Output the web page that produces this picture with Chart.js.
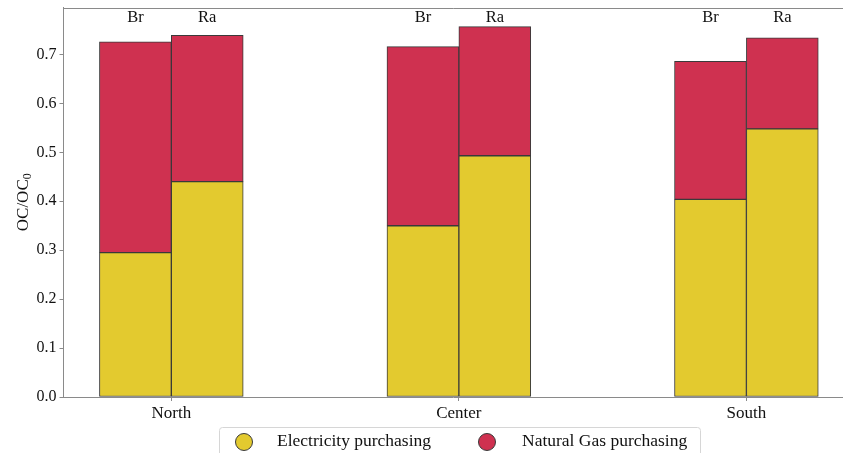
<!DOCTYPE html>
<html>
<head>
<meta charset="utf-8">
<script src="https://cdn.jsdelivr.net/npm/chart.js@4/dist/chart.umd.min.js"></script>
<style>
  html, body { margin: 0; padding: 0; background: #ffffff; }
  #wrap { width: 843px; height: 453px; position: relative; }
</style>
</head>
<body>
<div id="wrap"><canvas id="c" width="843" height="453"></canvas></div>
<script>
// Regions and scenarios
const regions = ['North', 'Center', 'South'];
const scenarios = ['Br', 'Ra'];

// Normalised operating cost shares, OC/OC0
const electricityBr = [0.295, 0.350, 0.404];
const gasBr         = [0.431, 0.366, 0.282];
const electricityRa = [0.440, 0.493, 0.548];
const gasRa         = [0.299, 0.264, 0.186];

// Axis ticks
const yTicks = [0.0, 0.1, 0.2, 0.3, 0.4, 0.5, 0.6, 0.7];
const seriesNames = ['Electricity purchasing', 'Natural Gas purchasing'];

const COLORS = { elec: '#e3ca2f', gas: '#cf3150', edge: '#3a3a3a', spine: '#8a8a8a', text: '#111111' };
const SERIF = "'Liberation Serif', 'Times New Roman', serif";
const BAR_W = 0.25;           // bar width in category units
const X_MIN = -0.375, X_MAX = 2.336;
const Y_MAX = 0.796;

// Dodge offset for each scenario inside a region group
const dodge = s => (s === 0 ? -BAR_W / 2 : BAR_W / 2);

function series(values, s) {
  return values.map((v, i) => ({ x: i + dodge(s), y: v }));
}

function barSet(label, values, s, color) {
  return {
    label,
    data: series(values, s),
    backgroundColor: color,
    borderColor: COLORS.edge,
    borderWidth: 1,
    borderSkipped: false,
    grouped: false,
    categoryPercentage: 1,
    barPercentage: 1,
    stack: scenarios[s]
  };
}

const decorations = {
  id: 'decorations',
  afterDraw(chart) {
    const { ctx, chartArea, scales } = chart;
    const x = scales.x, y = scales.y;
    ctx.save();

    // top spine
    ctx.strokeStyle = COLORS.spine;
    ctx.lineWidth = 1;
    ctx.beginPath();
    ctx.moveTo(chartArea.left, Math.round(chartArea.top) + 0.5);
    ctx.lineTo(chartArea.right, Math.round(chartArea.top) + 0.5);
    ctx.stroke();

    // scenario labels above each bar
    ctx.fillStyle = COLORS.text;
    ctx.font = '16.5px ' + SERIF;
    ctx.textAlign = 'center';
    ctx.textBaseline = 'alphabetic';
    regions.forEach((r, i) => {
      scenarios.forEach((sc, s) => {
        ctx.fillText(sc, x.getPixelForValue(i + dodge(s)), y.getPixelForValue(0.77) + 2);
      });
    });

    // y axis title with subscript
    const midY = (chartArea.top + chartArea.bottom) / 2;
    ctx.save();
    ctx.translate(28, midY);
    ctx.rotate(-Math.PI / 2);
    ctx.font = '17px ' + SERIF;
    const main = 'OC/OC';
    const wMain = ctx.measureText(main).width;
    ctx.font = '12px ' + SERIF;
    const wSub = ctx.measureText('0').width;
    const total = wMain + wSub;
    ctx.textAlign = 'left';
    ctx.font = '17px ' + SERIF;
    ctx.fillText(main, -total / 2, 0);
    ctx.font = '12px ' + SERIF;
    ctx.fillText('0', -total / 2 + wMain, 3);
    ctx.restore();

    // legend
    const lx = 219.5, ly = 427.5, lw = 481, lh = 40;
    ctx.fillStyle = 'rgba(255,255,255,0.85)';
    ctx.strokeStyle = '#d6d6d6';
    ctx.lineWidth = 1;
    ctx.beginPath();
    ctx.roundRect(lx, ly, lw, lh, 3);
    ctx.fill();
    ctx.stroke();

    const items = [
      { cx: 244, tx: 277, color: COLORS.elec },
      { cx: 487, tx: 522, color: COLORS.gas }
    ];
    items.forEach((it, k) => {
      ctx.beginPath();
      ctx.arc(it.cx, 442, 8.5, 0, Math.PI * 2);
      ctx.fillStyle = it.color;
      ctx.fill();
      ctx.strokeStyle = COLORS.edge;
      ctx.lineWidth = 1;
      ctx.stroke();
      ctx.fillStyle = COLORS.text;
      ctx.font = '17.5px ' + SERIF;
      ctx.textAlign = 'left';
      ctx.textBaseline = 'middle';
      ctx.fillText(seriesNames[k], it.tx, 441);
    });

    ctx.restore();
  }
};

new Chart(document.getElementById('c'), {
  type: 'bar',
  data: {
    datasets: [
      barSet(seriesNames[0] + ' (Br)', electricityBr, 0, COLORS.elec),
      barSet(seriesNames[1] + ' (Br)', gasBr, 0, COLORS.gas),
      barSet(seriesNames[0] + ' (Ra)', electricityRa, 1, COLORS.elec),
      barSet(seriesNames[1] + ' (Ra)', gasRa, 1, COLORS.gas)
    ]
  },
  options: {
    responsive: false,
    animation: false,
    devicePixelRatio: 1,
    layout: { padding: { left: 0, right: 0, top: 7.5, bottom: 30 } },
    plugins: { legend: { display: false }, tooltip: { enabled: false } },
    scales: {
      x: {
        type: 'linear',
        min: X_MIN,
        max: X_MAX,
        offset: false,
        border: { color: COLORS.spine, width: 1 },
        grid: { drawOnChartArea: false, offset: false, tickLength: 4, color: COLORS.spine },
        ticks: {
          autoSkip: false, maxRotation: 0, padding: 2,
          color: COLORS.text, font: { family: SERIF, size: 17 },
          callback: (v, i) => regions[i]
        },
        afterBuildTicks: s => { s.ticks = regions.map((_, i) => ({ value: i })); },
        afterFit: s => { s.height = 26; s.paddingLeft = 0; s.paddingRight = 0; }
      },
      y: {
        stacked: true,
        min: 0,
        max: Y_MAX,
        border: { color: COLORS.spine, width: 1 },
        grid: { drawOnChartArea: false, offset: false, tickLength: 4, color: COLORS.spine },
        ticks: {
          padding: 3, color: COLORS.text, font: { family: SERIF, size: 16 },
          callback: v => Number(v).toFixed(1)
        },
        afterBuildTicks: s => { s.ticks = yTicks.map(v => ({ value: v })); },
        afterFit: s => { s.width = 63.5; s.paddingTop = 0; s.paddingBottom = 0; }
      }
    }
  },
  plugins: [decorations]
});
</script>
</body>
</html>
